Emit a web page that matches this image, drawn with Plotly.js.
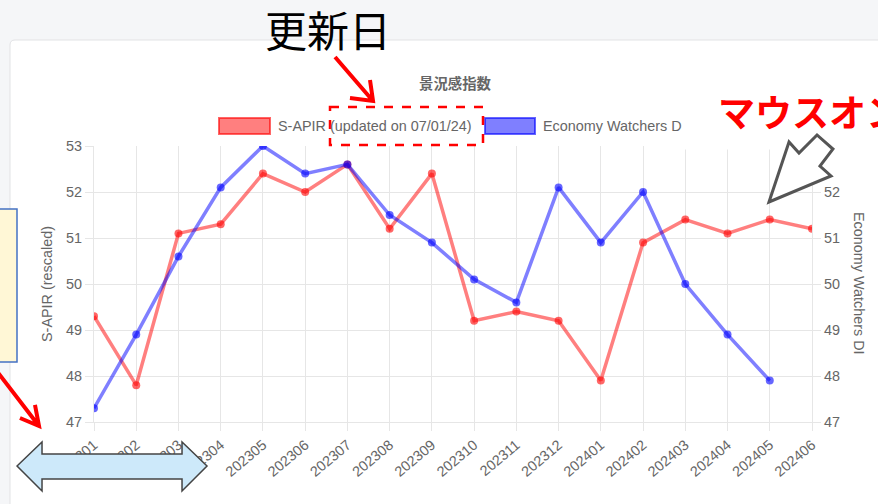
<!DOCTYPE html>
<html>
<head>
<meta charset="utf-8">
<script src="https://cdn.plot.ly/plotly-3.0.1.min.js"></script>
<style>
  html, body { margin: 0; padding: 0; background: #f5f6f8; }
  #plot { width: 878px; height: 504px; }
</style>
</head>
<body>
<div id="plot"></div>
<script>
(function (document, window) {

    // Datos
    const months = ['202301', '202302', '202303', '202304', '202305', '202306', '202307', '202308', '202309',
                    '202310', '202311', '202312', '202401', '202402', '202403', '202404', '202405', '202406'];
    const sapir = [49.3, 47.8, 51.1, 51.3, 52.4, 52.0, 52.6, 51.2, 52.4, 49.2, 49.4, 49.2, 47.9, 50.9, 51.4, 51.1, 51.4, 51.2];
    const ewdi = [47.3, 48.9, 50.6, 52.1, 53.0, 52.4, 52.6, 51.5, 50.9, 50.1, 49.6, 52.1, 50.9, 52.0, 50.0, 48.9, 47.9, null];
    const yRange = [47, 53];

    // plot area in pixels
    const PL = 94, PR = 812, PT = 146, PB = 422;
    const fx = p => (p - PL) / (PR - PL);
    const fy = p => (PB - p) / (PB - PT);

    function path(lines, close) {
        return lines.map(function (pts) {
            return pts.map(function (p, i) {
                return (i ? 'L' : 'M') + fx(p[0]).toFixed(4) + ',' + fy(p[1]).toFixed(4);
            }).join(' ') + (close ? ' Z' : '');
        }).join(' ');
    }

    function rect(x0, y0, x1, y1, extra) {
        return Object.assign({
            type: 'rect', xref: 'paper', yref: 'paper',
            x0: fx(x0), x1: fx(x1), y0: fy(y0), y1: fy(y1)
        }, extra);
    }

    function label(text, x, y, size, color, family, extra) {
        return Object.assign({
            text: text, x: fx(x), y: fy(y), xref: 'paper', yref: 'paper',
            xanchor: 'center', yanchor: 'middle', showarrow: false,
            font: { family: family, size: size, color: color }
        }, extra);
    }

    const grey = '#666';
    const gridColor = '#e6e6e6';
    const fontLatin = 'Liberation Sans, Arial, sans-serif';
    const fontJp = 'Noto Sans CJK JP, sans-serif';
    const fs = 14.4; // 12px de Chart.js a escala 1.2

    const traces = [
        {
            name: 'S-APIR (updated on 07/01/24)', x: months, y: sapir, type: 'scatter', mode: 'lines+markers',
            line: { color: 'rgba(255, 0, 0, 0.5)', width: 3.5 },
            marker: { color: 'rgba(255, 0, 0, 0.6)', size: 8 },
            yaxis: 'y'
        },
        {
            name: 'Economy Watchers DI', x: months, y: ewdi, type: 'scatter', mode: 'lines+markers',
            line: { color: 'rgba(0, 0, 255, 0.5)', width: 3.5 },
            marker: { color: 'rgba(0, 0, 255, 0.6)', size: 8 },
            yaxis: 'y2'
        }
    ];

    const shapes = [
        // tarjeta blanca
        {
            type: 'path', xref: 'paper', yref: 'paper', layer: 'below',
            path: 'M' + fx(10) + ',' + fy(530) + ' L' + fx(10) + ',' + fy(45) +
                  ' Q' + fx(10) + ',' + fy(40) + ' ' + fx(15) + ',' + fy(40) +
                  ' L' + fx(900) + ',' + fy(40) + ' L' + fx(900) + ',' + fy(530) + ' Z',
            fillcolor: '#ffffff', line: { color: '#e2e3e5', width: 1 }
        },
        // leyenda
        rect(219, 118, 270, 134, { fillcolor: 'rgba(255,0,0,0.5)', line: { color: 'rgba(255,0,0,0.6)', width: 2 } }),
        rect(485, 118, 535, 134, { fillcolor: 'rgba(0,0,255,0.5)', line: { color: 'rgba(0,0,255,0.6)', width: 2 } }),
        // recorte blanco arriba a la derecha
        rect(677, 95, 900, 149.5, { fillcolor: '#ffffff', line: { width: 0 } }),
        rect(814, 95, 900, 153, { fillcolor: '#ffffff', line: { width: 0 } }),
        // recuadro punteado
        rect(330, 107, 483, 145, { line: { color: '#ff0000', width: 2.5, dash: 'dash' } }),
        // flechas rojas
        {
            type: 'path', xref: 'paper', yref: 'paper',
            path: path([[[335, 57], [373, 101]], [[350, 98], [373, 101], [370, 80]]]),
            line: { color: '#ff0000', width: 4 }
        },
        {
            type: 'path', xref: 'paper', yref: 'paper',
            path: path([[[-4, 370], [39, 426]], [[20, 418], [39, 426], [35, 405]]]),
            line: { color: '#ff0000', width: 4 }
        },
        // caja amarilla
        rect(-5, 209, 17, 362, { fillcolor: '#fff7d6', line: { color: '#4472c4', width: 1.5 } }),
        // doble flecha celeste
        {
            type: 'path', xref: 'paper', yref: 'paper',
            path: path([[[17, 466], [42, 442], [42, 454], [182, 454], [182, 442], [207, 466],
                         [182, 491], [182, 479], [42, 479], [42, 491]]], true),
            fillcolor: '#cde9fa', line: { color: '#444', width: 1.5 }
        },
        // flecha gris
        {
            type: 'path', xref: 'paper', yref: 'paper',
            path: path([[[769, 202], [789, 142], [799, 153], [817, 135], [833, 149],
                         [820, 166], [831, 176]]], true),
            fillcolor: '#ffffff', line: { color: '#555', width: 3 }
        }
    ];

    const annotations = [
        label('更新日', 328, 29, 42, '#000', fontJp),
        label('<b>マウスオン</b>', 716, 111, 37, '#ff0000', fontJp, { xanchor: 'left' }),
        label('S-APIR (updated on 07/01/24)', 276, 126, fs, grey, fontLatin, { xanchor: 'left' }),
        label('Economy Watchers D', 541, 126, fs, grey, fontLatin, { xanchor: 'left' }),
        label('S-APIR (rescaled)', 47, 284, fs, grey, fontLatin, { textangle: -90 }),
        label('Economy Watchers DI', 859, 284, fs, grey, fontLatin, { textangle: 90 })
    ];

    const axisBase = {
        showgrid: true, gridcolor: gridColor, gridwidth: 1,
        ticks: 'outside', ticklen: 8, tickcolor: gridColor,
        showline: true, linecolor: gridColor, linewidth: 1,
        zeroline: false, fixedrange: true,
        tickfont: { family: fontLatin, size: fs, color: grey }
    };

    const layout = {
        width: 878, height: 504, autosize: false,
        margin: { l: PL, r: 878 - PR, t: PT, b: 504 - PB, pad: 0 },
        paper_bgcolor: '#f5f6f8', plot_bgcolor: 'rgba(0,0,0,0)',
        showlegend: false,
        title: { text: '<b>景況感指数</b>', x: 455 / 878, y: 1 - 84 / 504, xanchor: 'center', yanchor: 'middle',
                 font: { family: fontJp, size: fs, color: grey } },
        xaxis: Object.assign({}, axisBase, {
            type: 'category', range: [0, months.length - 1], tickangle: -40
        }),
        yaxis: Object.assign({}, axisBase, {
            range: yRange, dtick: 1, side: 'left'
        }),
        yaxis2: Object.assign({}, axisBase, {
            range: yRange, dtick: 1, side: 'right', overlaying: 'y', showgrid: false
        }),
        shapes: shapes,
        annotations: annotations
    };

    document.addEventListener('DOMContentLoaded', function () {
        Plotly.newPlot('plot', traces, layout, { displayModeBar: false, staticPlot: true });
    });

})(document, window);
</script>
</body>
</html>
